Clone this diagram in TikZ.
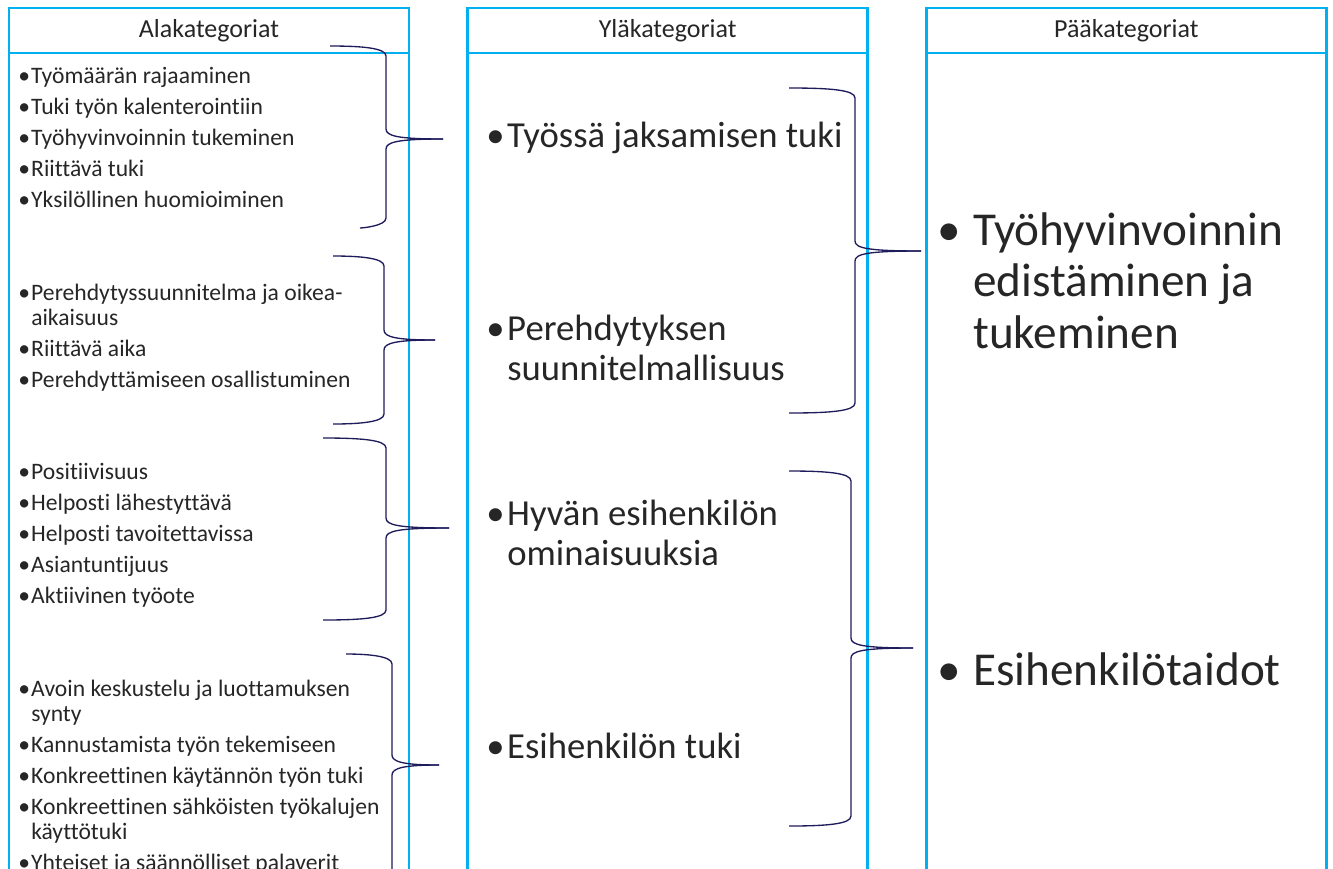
\documentclass[tikz,border=0pt]{standalone}
\usepackage{fontspec}
\setmainfont{Carlito}[Ligatures={NoCommon}]
\usetikzlibrary{positioning}

\definecolor{colblue}{RGB}{0,176,240}
\definecolor{bracenavy}{RGB}{30,28,90}
\definecolor{txtgray}{RGB}{38,38,38}

% bullet in a box of fixed width, so that wrapped lines line up
\newcommand{\blt}[1]{\makebox[#1][l]{\textbullet}}
% right curly brace: top end x, bottom end x, spine x, tip x, top y, tip y, bottom y
\newcommand{\drawbrace}[7]{%
  \draw[brace] (#1,#5) .. controls (#3-24,#5) and (#3,#5+2) .. (#3,#5+10)
    -- (#3,#6-10) .. controls (#3,#6-3) and (#3+12,#6) .. (#4,#6);
  \draw[brace] (#4,#6) .. controls (#3+12,#6) and (#3,#6+3) .. (#3,#6+10)
    -- (#3,#7-10) .. controls (#3,#7-2) and (#3-24,#7) .. (#2,#7);
}

\begin{document}
\begin{tikzpicture}[
    x=0.75pt, y=-0.75pt,
    head/.style={rectangle, draw=colblue, line width=1.8pt, minimum width=300pt, minimum height=33.75pt, inner sep=0pt, outer sep=0pt, text=txtgray, font=\fontsize{19.5pt}{23pt}\selectfont},
    colbody/.style={rectangle, draw=colblue, line width=1.8pt, minimum width=300pt, minimum height=640pt, outer sep=0pt},
    subitem/.style={align=left, inner sep=0pt, anchor=base west, text=txtgray, font=\fontsize{17.7pt}{18.75pt}\selectfont},
    upitem/.style={align=left, inner sep=0pt, anchor=base west, text=txtgray, font=\fontsize{27.5pt}{29.6pt}\selectfont},
    mainitem/.style={align=left, inner sep=0pt, anchor=base west, text=txtgray, font=\fontsize{35.4pt}{38.6pt}\selectfont},
    brace/.style={draw=bracenavy, line width=1pt}
]
\path[use as bounding box] (0,0) rectangle (1333,868);
\clip (0,0) rectangle (1333,868);

% 1. Column headers
\node[head] (alahead) at (209,30.5) {Alakategoriat};
\node[head, right=44pt of alahead] (ylahead) {Yläkategoriat};
\node[head, right=44pt of ylahead] (paahead) {Pääkategoriat};

% 2. Column bodies
\node[colbody, below=0pt of alahead] (alabody) {};
\node[colbody, below=0pt of ylahead] (ylabody) {};
\node[colbody, below=0pt of paahead] (paabody) {};

% 3. Alakategoriat (placed at the baseline of their last line)
\node[subitem] (subJaksaminen) at (18,207) {\blt{9.75pt}Työmäärän rajaaminen\\[4.5pt]
  \blt{9.75pt}Tuki työn kalenterointiin\\[4.5pt]
  \blt{9.75pt}Työhyvinvoinnin tukeminen\\[4.5pt]
  \blt{9.75pt}Riittävä tuki\\[4.5pt]
  \blt{9.75pt}Yksilöllinen huomioiminen};
\node[subitem] (subPerehdytys) at (18,387) {\blt{9.75pt}Perehdytyssuunnitelma ja oikea-\\
  \hspace*{9.75pt}aikaisuus\\[4.5pt]
  \blt{9.75pt}Riittävä aika\\[4.5pt]
  \blt{9.75pt}Perehdyttämiseen osallistuminen};
\node[subitem] (subOminaisuudet) at (18,603) {\blt{9.75pt}Positiivisuus\\[4.5pt]
  \blt{9.75pt}Helposti lähestyttävä\\[4.5pt]
  \blt{9.75pt}Helposti tavoitettavissa\\[4.5pt]
  \blt{9.75pt}Asiantuntijuus\\[4.5pt]
  \blt{9.75pt}Aktiivinen työote};
\node[subitem] (subTuki) at (18,870) {\blt{9.75pt}Avoin keskustelu ja luottamuksen\\
  \hspace*{9.75pt}synty\\[4.5pt]
  \blt{9.75pt}Kannustamista työn tekemiseen\\[4.5pt]
  \blt{9.75pt}Konkreettinen käytännön työn tuki\\[4.5pt]
  \blt{9.75pt}Konkreettinen sähköisten työkalujen\\
  \hspace*{9.75pt}käyttötuki\\[4.5pt]
  \blt{9.75pt}Yhteiset ja säännölliset palaverit};

% 4. Yläkategoriat
\node[upitem] (upJaksaminen) at (486,147) {\blt{15.75pt}Työssä jaksamisen tuki};
\node[upitem] (upPerehdytys) at (486,380) {\blt{15.75pt}Perehdytyksen\\
  \hspace*{15.75pt}suunnitelmallisuus};
\node[upitem] (upOminaisuudet) at (486,565) {\blt{15.75pt}Hyvän esihenkilön\\
  \hspace*{15.75pt}ominaisuuksia};
\node[upitem] (upTuki) at (486,758) {\blt{15.75pt}Esihenkilön tuki};

% 5. Pääkategoriat
\node[mainitem] (mainTyohyv) at (937,348) {\blt{27pt}Työhyvinvoinnin\\
  \hspace*{27pt}edistäminen ja\\
  \hspace*{27pt}tukeminen};
\node[mainitem] (mainEsih) at (937,685) {\blt{27pt}Esihenkilötaidot};

% 6. Braces
\drawbrace{330}{360}{386}{443}{46}{139}{228}
\drawbrace{333}{333}{384}{435}{256}{340}{424}
\drawbrace{323}{323}{386}{449}{438}{528}{620}
\drawbrace{346}{346}{392}{439}{654}{765}{880}
\drawbrace{789}{789}{855}{921}{88}{251}{413}
\drawbrace{789}{789}{851}{913}{471}{648}{826}

\end{tikzpicture}
\end{document}
